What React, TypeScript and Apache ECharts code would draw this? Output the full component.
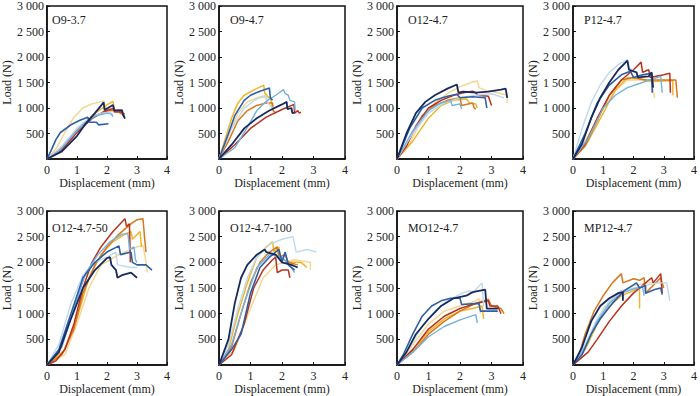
import React, { useEffect, useRef } from "react";
import * as echarts from "echarts";

// Panel titles
const PANELS = ["O9-3.7", "O9-4.7", "O12-4.7", "P12-4.7", "O12-4.7-50", "O12-4.7-100", "MO12-4.7", "MP12-4.7"];
const X_TICKS = [0, 1, 2, 3, 4];
const Y_TICKS = [0, 500, 1000, 1500, 2000, 2500, 3000];

// Each panel: curves in order [navy, blue, sky, pale, red, orange, yellow, cream]; points are [displacement mm, load N]
const O9_37 = [
  [[0,0],[0.5,150],[1.0,450],[1.3,700],[1.6,900],[1.89,1110],[1.92,960],[2.2,1060],[2.25,950],[2.5,960],[2.55,850],[2.6,790]],
  [[0,0],[0.15,180],[0.3,380],[0.45,520],[0.8,670],[1.1,760],[1.36,820],[1.42,720],[1.65,720],[1.72,670],[2.05,690]],
  [[0,0],[0.4,150],[0.8,420],[1.2,680],[1.6,840],[2.0,900],[2.15,880],[2.2,830]],
  [[0,0],[0.5,250],[1.0,600],[1.4,800],[1.8,900],[2.1,920],[2.2,860]],
  [[0,0],[0.5,180],[1.0,520],[1.5,790],[1.9,930],[2.2,990],[2.25,920],[2.5,920],[2.55,850],[2.6,830]],
  [[0,0],[0.5,230],[1.0,580],[1.5,830],[2.0,940],[2.4,960],[2.45,890],[2.6,880]],
  [[0,0],[0.4,120],[0.8,380],[1.2,680],[1.6,900],[2.0,1060],[2.2,1130],[2.25,960],[2.5,910],[2.6,880]],
  [[0,0],[0.3,200],[0.6,520],[0.9,820],[1.2,1000],[1.5,1080],[1.9,1140],[1.95,1000],[2.2,950]],
];
const O9_47 = [
  [[0,0],[0.4,280],[0.8,600],[1.2,800],[1.6,950],[2.0,1070],[2.15,1120],[2.17,980],[2.3,1000],[2.33,900],[2.4,910]],
  [[0,0],[0.3,500],[0.5,850],[0.8,1150],[1.0,1250],[1.3,1330],[1.6,1390],[1.63,1200],[1.7,1150]],
  [[0,0],[0.5,220],[0.9,620],[1.2,950],[1.5,1130],[1.8,1250],[2.05,1360],[2.1,1280],[2.2,1250],[2.25,1150],[2.4,1120],[2.42,950]],
  [[0,0],[0.4,600],[0.8,1000],[1.2,1180],[1.5,1230],[1.55,1100],[1.7,1000]],
  [[0,0],[0.5,280],[1.0,600],[1.5,820],[2.0,970],[2.38,1070],[2.4,900],[2.5,950],[2.55,900],[2.6,920]],
  [[0,0],[0.3,350],[0.6,750],[0.9,950],[1.2,1050],[1.5,1100],[1.7,1100],[1.72,950],[1.8,900]],
  [[0,0],[0.2,400],[0.4,800],[0.6,1100],[0.8,1250],[1.1,1350],[1.42,1450],[1.45,1300],[1.65,1150],[1.7,950]],
  [[0,0],[0.3,450],[0.6,900],[0.9,1120],[1.2,1200],[1.45,1240],[1.5,1150]],
];
const O12_47 = [
  [[0,0],[0.3,500],[0.6,900],[0.9,1120],[1.2,1250],[1.6,1380],[1.9,1460],[1.95,1300],[2.1,1320],[2.5,1300],[2.9,1320],[3.3,1360],[3.45,1380],[3.5,1200]],
  [[0,0],[0.4,600],[0.8,1000],[1.2,1150],[1.6,1230],[1.9,1270],[2.0,1200],[2.4,1220],[2.8,1200],[2.85,1000]],
  [[0,0],[0.5,550],[1.0,950],[1.4,1100],[1.7,1150],[1.75,1050],[2.0,1080],[2.05,980]],
  [[0,0],[0.5,500],[1.0,900],[1.5,1100],[2.0,1200],[2.5,1250],[3.0,1280],[3.4,1200]],
  [[0,0],[0.3,250],[0.6,650],[1.0,1000],[1.4,1150],[1.8,1250],[2.1,1300],[2.4,1330],[2.5,1300],[2.55,1250],[2.9,1230],[3.0,1050]],
  [[0,0],[0.4,400],[0.8,850],[1.2,1050],[1.6,1150],[2.0,1200],[2.05,1050],[2.4,1100],[2.45,1000],[2.5,980]],
  [[0,0],[0.5,350],[1.0,800],[1.4,1050],[1.8,1150],[2.2,1180],[2.3,1100],[2.5,1080],[2.55,1000]],
  [[0,0],[0.4,300],[0.8,800],[1.2,1100],[1.6,1280],[2.0,1420],[2.4,1510],[2.55,1530],[2.6,1400],[2.8,1350],[3.2,1300],[3.5,1250],[3.5,1100]],
];
const P12_47 = [
  [[0,0],[0.3,300],[0.6,800],[0.9,1200],[1.2,1500],[1.5,1750],[1.8,1930],[1.85,1750],[2.1,1700],[2.15,1600],[2.5,1620],[2.6,1700],[2.65,1400]],
  [[0,0],[0.4,500],[0.8,1100],[1.2,1450],[1.6,1650],[1.9,1720],[2.0,1600],[2.3,1650],[2.6,1680],[2.62,1300]],
  [[0,0],[0.5,400],[1.0,1000],[1.4,1250],[1.8,1400],[2.2,1480],[2.6,1560],[2.9,1620],[2.95,1300]],
  [[0,0],[0.3,600],[0.6,1100],[0.9,1450],[1.2,1700],[1.5,1850],[1.8,1950],[1.85,1800],[2.0,1700]],
  [[0,0],[0.4,300],[0.8,800],[1.2,1250],[1.6,1550],[2.0,1750],[2.25,1900],[2.3,1700],[2.5,1750],[2.55,1600],[3.0,1650],[3.2,1680],[3.22,1300]],
  [[0,0],[0.4,250],[0.8,750],[1.2,1250],[1.6,1550],[2.0,1600],[2.4,1550],[2.8,1550],[3.0,1550],[3.4,1550],[3.45,1200]],
  [[0,0],[0.5,350],[1.0,900],[1.4,1350],[1.8,1600],[2.2,1570],[2.6,1520],[3.0,1530],[3.3,1540],[3.3,1250]],
  [[0,0],[0.5,450],[1.0,1000],[1.4,1350],[1.8,1550],[2.2,1550],[2.6,1520],[2.7,1200]],
];
const O12_47_50 = [
  [[0,0],[0.4,250],[0.8,900],[1.2,1500],[1.6,1850],[2.0,2080],[2.1,2100],[2.15,1950],[2.3,1850],[2.35,1700],[2.5,1750],[2.8,1800],[3.0,1700]],
  [[0,0],[0.4,300],[0.8,1000],[1.2,1700],[1.6,2000],[2.0,2200],[2.4,2320],[2.45,2150],[2.8,2200],[2.85,2000],[3.0,1950],[3.3,1950],[3.5,1850]],
  [[0,0],[0.5,350],[0.9,1100],[1.3,1800],[1.7,2150],[2.1,2400],[2.5,2550],[2.7,2560],[2.75,2250],[2.9,2300],[2.95,2050],[3.0,2000]],
  [[0,0],[0.4,400],[0.8,1200],[1.2,1750],[1.6,2000],[2.0,2100],[2.3,2200],[2.35,1950],[2.8,1900],[3.0,1900]],
  [[0,0],[0.3,80],[0.6,300],[0.9,800],[1.2,1500],[1.5,2000],[1.8,2300],[2.2,2600],[2.6,2850],[2.65,2700],[2.75,2750],[2.78,2000]],
  [[0,0],[0.5,200],[0.9,700],[1.2,1400],[1.6,1950],[2.0,2300],[2.4,2550],[2.8,2750],[3.0,2830],[3.2,2850],[3.25,2500],[3.3,2200]],
  [[0,0],[0.6,300],[1.0,900],[1.4,1700],[1.8,2150],[2.2,2400],[2.6,2550],[2.8,2600],[2.85,2450],[3.1,2600],[3.15,2300]],
  [[0,0],[0.6,200],[1.0,800],[1.4,1500],[1.8,1950],[2.4,2150],[3.0,2300],[3.2,2330],[3.3,2000],[3.35,1800]],
];
const O12_47_100 = [
  [[0,0],[0.3,500],[0.5,1200],[0.7,1700],[0.9,1950],[1.2,2150],[1.45,2250],[1.5,2200],[1.8,2150],[2.0,2000],[2.3,1950],[2.5,1900]],
  [[0,0],[0.4,300],[0.7,600],[1.0,1400],[1.3,1900],[1.6,2100],[1.9,2250],[2.0,2000],[2.1,2200],[2.2,1950],[2.4,1850]],
  [[0,0],[0.4,400],[0.8,1200],[1.2,1900],[1.6,2150],[2.0,2100],[2.3,1900],[2.4,1800]],
  [[0,0],[0.3,400],[0.6,1100],[0.9,1700],[1.2,2100],[1.6,2350],[2.0,2450],[2.35,2500],[2.45,2200],[2.8,2250],[3.1,2200]],
  [[0,0],[0.4,200],[0.8,800],[1.1,1500],[1.4,1850],[1.7,2050],[1.8,2100],[1.85,1800],[2.0,1850],[2.2,1850],[2.25,1700]],
  [[0,0],[0.4,350],[0.7,1000],[1.0,1600],[1.3,2000],[1.6,2200],[1.85,2300],[1.9,2100],[2.1,2150],[2.2,2000],[2.5,1950]],
  [[0,0],[0.3,300],[0.6,1000],[0.9,1600],[1.2,2100],[1.5,2300],[1.7,2400],[1.75,2200],[1.9,2300],[1.95,2100],[2.2,2000],[2.6,2000],[2.8,1900]],
  [[0,0],[0.5,300],[1.0,1100],[1.4,1700],[1.8,1950],[2.4,2050],[2.9,2000],[2.9,1850]],
];
const MO12_47 = [
  [[0,0],[0.3,250],[0.6,600],[1.0,900],[1.4,1150],[1.8,1300],[2.2,1350],[2.4,1420],[2.8,1470],[2.85,1100],[3.2,1100]],
  [[0,0],[0.2,200],[0.5,600],[0.8,950],[1.1,1150],[1.4,1250],[1.7,1300],[2.0,1300],[2.05,1180],[2.6,1200],[2.65,1050],[3.2,1050]],
  [[0,0],[0.5,250],[1.0,550],[1.5,750],[2.0,880],[2.5,980],[2.55,820]],
  [[0,0],[0.4,350],[0.8,750],[1.2,1050],[1.6,1250],[2.0,1380],[2.3,1450],[2.4,1400],[2.7,1600],[2.75,1150]],
  [[0,0],[0.5,300],[1.0,700],[1.5,950],[2.0,1100],[2.5,1200],[2.9,1250],[2.95,1150],[3.2,1150],[3.3,1000]],
  [[0,0],[0.5,250],[1.0,600],[1.5,850],[2.0,1050],[2.5,1200],[2.9,1280],[3.0,1150],[3.3,1100],[3.4,1000]],
  [[0,0],[0.5,300],[1.0,650],[1.5,900],[2.0,1050],[2.4,1100],[2.7,1150],[2.75,900]],
  [[0,0],[0.5,400],[1.0,800],[1.5,1050],[2.0,1150],[2.5,1250],[2.6,1300],[2.65,1000]],
];
const MP12_47 = [
  [[0,0],[0.3,350],[0.6,850],[0.9,1150],[1.2,1300],[1.5,1400],[1.65,1420],[1.65,1250]],
  [[0,0],[0.3,200],[0.6,600],[0.9,900],[1.3,1200],[1.7,1450],[2.1,1600],[2.2,1500],[2.4,1550],[2.4,1400],[2.7,1470],[2.9,1500],[2.95,1370]],
  [[0,0],[0.4,350],[0.8,850],[1.2,1200],[1.6,1400],[2.0,1480],[2.3,1520],[2.35,1350]],
  [[0,0],[0.4,400],[0.8,900],[1.2,1250],[1.6,1450],[2.0,1500],[2.4,1550],[2.8,1600],[3.1,1600],[3.2,1250]],
  [[0,0],[0.5,250],[0.8,500],[1.2,850],[1.6,1150],[2.0,1400],[2.2,1500],[2.3,1550],[2.6,1700],[2.65,1600],[2.9,1780],[2.95,1400]],
  [[0,0],[0.2,200],[0.4,600],[0.7,1050],[1.0,1350],[1.3,1600],[1.6,1780],[1.65,1600],[2.0,1680],[2.2,1650],[2.35,1700],[2.4,1400],[2.9,1700],[3.0,1500]],
  [[0,0],[0.4,300],[0.8,800],[1.2,1150],[1.6,1350],[2.0,1450],[2.2,1480],[2.2,1100]],
  [[0,0],[0.5,500],[1.0,1100],[1.5,1400],[2.0,1550],[2.5,1600],[2.9,1620],[3.0,1500]],
];

const PANEL_DATA = [O9_37, O9_47, O12_47, P12_47, O12_47_50, O12_47_100, MO12_47, MP12_47];

const COLORS = ["#172a5e", "#2d5ea8", "#74b2e2", "#bdd9ee", "#b8321c", "#d8781c", "#f1b52a", "#f3d590"];
const WIDTHS = [1.8, 1.6, 1.4, 1.4, 1.5, 1.5, 1.5, 1.4];

const FONT = "'Liberation Serif', 'Times New Roman', serif";
const LEFTS = [41, 219, 397, 573];
const TOPS = [3, 211];
const W = 126;
const H = 156;

function fmt(v: number) {
  if (v === 0) return "";
  return String(v).replace(/\B(?=(\d{3})+(?!\d))/g, " ");
}

export default function App() {
  const ref = useRef<HTMLDivElement>(null);
  useEffect(() => {
    if (!ref.current) return;
    const chart = echarts.init(ref.current, undefined, { renderer: "svg" });
    const grids: any[] = [];
    const xAxes: any[] = [];
    const yAxes: any[] = [];
    const titles: any[] = [];
    const series: any[] = [];
    PANELS.forEach((name, i) => {
      const left = LEFTS[i % 4];
      const top = TOPS[Math.floor(i / 4)];
      grids.push({ left, top, width: W, height: H, show: true, borderColor: "#111", borderWidth: 1.5, backgroundColor: "transparent" });
      xAxes.push({
        type: "value", gridIndex: i, min: X_TICKS[0], max: X_TICKS[X_TICKS.length - 1], interval: 1,
        name: "Displacement (mm)", nameLocation: "middle", nameGap: 18,
        nameTextStyle: { fontFamily: FONT, fontSize: 12, color: "#222" },
        axisLine: { show: true, lineStyle: { color: "#111", width: 1.5 } },
        axisTick: { show: true, inside: true, length: 3, lineStyle: { color: "#111" } },
        axisLabel: { fontFamily: FONT, fontSize: 12, color: "#222", margin: 5 },
        splitLine: { show: false },
      });
      yAxes.push({
        type: "value", gridIndex: i, min: Y_TICKS[0], max: Y_TICKS[Y_TICKS.length - 1], interval: 500,
        name: "Load (N)", nameLocation: "middle", nameGap: 29,
        nameTextStyle: { fontFamily: FONT, fontSize: 12, color: "#222" },
        axisLine: { show: true, lineStyle: { color: "#111", width: 1.5 } },
        axisTick: { show: true, inside: true, length: 3, lineStyle: { color: "#111" } },
        axisLabel: { fontFamily: FONT, fontSize: 12, color: "#222", margin: 3, formatter: fmt },
        splitLine: { show: false },
      });
      titles.push({
        text: name, left: left + 6, top: top + 6,
        textStyle: { fontFamily: FONT, fontSize: 12, fontWeight: "normal", color: "#222" },
      });
      const curves = PANEL_DATA[i];
      for (let k = curves.length - 1; k >= 0; k--) {
        series.push({
          type: "line", xAxisIndex: i, yAxisIndex: i, data: curves[k], showSymbol: false,
          lineStyle: { color: COLORS[k], width: WIDTHS[k] }, itemStyle: { color: COLORS[k] },
          silent: true, clip: true,
        });
      }
    });
    chart.setOption({
      animation: false,
      backgroundColor: "#fff",
      title: titles,
      grid: grids,
      xAxis: xAxes,
      yAxis: yAxes,
      series,
    });
    return () => chart.dispose();
  }, []);
  return <div ref={ref} style={{ position: "fixed", left: 0, top: 0, width: 700, height: 396 }} />;
}
